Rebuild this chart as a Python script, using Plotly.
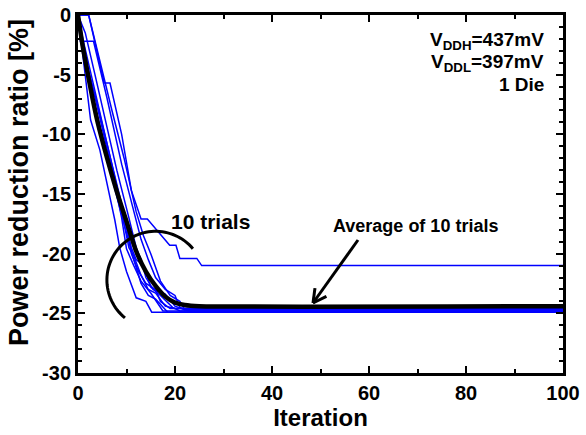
import numpy as np
import plotly.graph_objects as go

# ---- data (breakpoints) ----
trial_x = [
    [0, 2.2, 5.4, 6.6, 9, 11, 13, 14.3, 18.9, 20.2, 21, 24.5, 25.5, 100],
    [0, 2.2, 7, 9.5, 12, 13.5, 15, 17, 19, 21, 22, 100],
    [0, 0.5, 3.2, 6, 9, 11.5, 13, 14.5, 16, 18, 20, 21, 23.5, 100],
    [0, 2.6, 4.5, 7.6, 8.6, 10, 12, 14, 15.2, 100],
    [0, 1.5, 4, 6.5, 8, 9, 10, 11.5, 13, 15, 16.5, 17.5, 100],
    [0, 2, 4, 5.5, 8, 10, 11, 12.5, 14, 16, 17, 19, 100],
    [0, 1, 3, 5.5, 7.5, 9.5, 11, 12, 13.5, 15, 17, 19.5, 21, 100],
    [0, 1.2, 3, 5, 7, 9, 10.5, 11.5, 13, 14.5, 16, 18, 20, 100],
    [0, 2, 4, 6, 8.5, 10, 11.5, 13, 14.5, 16, 18.5, 100],
    [0, 1.5, 3.5, 6, 8, 10.5, 12, 13, 14, 15.5, 18, 20, 22, 100],
]
trial_y = [
    [0, 0, -5.7, -5.7, -10, -14.7, -17.1, -17.1, -19.3, -19.3, -20.4, -20.4, -21, -21],
    [0, 0, -8, -12, -16.5, -18.5, -20, -22.3, -23.5, -24, -24.7, -24.7],
    [0, -2.2, -2.2, -7, -12.5, -16.5, -18.8, -20.5, -22, -23, -23.5, -24.5, -24.9, -24.9],
    [0, -8.8, -11.3, -17.2, -19.5, -21.5, -23.7, -24, -24.9, -24.9],
    [0, -4, -8.5, -12.5, -15, -17, -19.6, -21, -22.3, -23.3, -24.2, -24.8, -24.8],
    [0, -4.5, -7.5, -10, -14, -17.5, -20, -21.5, -22.5, -23, -24, -24.6, -24.6],
    [0, -2, -5.5, -10, -13.5, -17, -19.5, -20.5, -21, -22.8, -23.5, -24.5, -24.8, -24.8],
    [0, -3, -6, -9.5, -13, -16.5, -19.5, -20.2, -21.8, -23, -23.3, -24.4, -24.6, -24.6],
    [0, -5, -8.5, -12, -16, -18.3, -20.5, -22.5, -23.5, -23.8, -24.9, -24.9],
    [0, -1.5, -5, -9.5, -13, -17, -19.5, -20.5, -22, -23, -23.4, -24.4, -24.7, -24.7],
]
avg_x = [0, 1, 2, 3, 4, 6, 8, 10, 12, 14, 16, 18, 20, 22, 25, 100]
avg_y = [0, -2.7, -4.9, -7, -8.9, -12, -14.8, -17.3, -19.8, -21.5, -22.7, -23.6, -24.1, -24.3, -24.4, -24.4]

x_ticks = [0, 20, 40, 60, 80, 100]
y_ticks = [0, -5, -10, -15, -20, -25, -30]

FONT = "Liberation Sans, Arial, sans-serif"
W, H = 586, 435
ML, MR, MT, MB = 78, 23, 15, 62
PW, PH = W - ML - MR, H - MT - MB
px_x = PW / 100.0   # pixels per iteration
px_y = PH / 30.0    # pixels per %


def dx(px):
    return (px - ML) / px_x


def dy(py):
    return -(py - MT) / px_y


fig = go.Figure()
for xs, ys in zip(trial_x, trial_y):
    fig.add_trace(go.Scatter(x=xs, y=ys, mode="lines",
                             line=dict(color="#0000ff", width=1.5),
                             showlegend=False, hoverinfo="skip"))
fig.add_trace(go.Scatter(x=avg_x, y=avg_y, mode="lines",
                         line=dict(color="black", width=4.5, shape="spline", smoothing=0.6),
                         showlegend=False, hoverinfo="skip"))

# arc around the trials (annotation)
cx, cy, r = dx(155.6), dy(280), 48.7
th = np.radians(np.linspace(40, 231, 60))
ax_pts = cx + r * np.cos(th) / px_x
ay_pts = cy + r * np.sin(th) / px_y
path = "M " + " L ".join(f"{a:.3f},{b:.3f}" for a, b in zip(ax_pts, ay_pts))
fig.add_shape(type="path", path=path, xref="x", yref="y",
              line=dict(color="black", width=3))

# arrow pointing to average line
tip = (dx(313), dy(303))
tail = (dx(358), dy(240))
fig.add_shape(type="line", x0=tail[0], y0=tail[1], x1=tip[0], y1=tip[1],
              xref="x", yref="y", line=dict(color="black", width=3))
dxp = (tail[0] - tip[0]) * px_x
dyp = (tail[1] - tip[1]) * px_y
ang = np.arctan2(dyp, dxp)
for d in (np.radians(28), -np.radians(28)):
    L = 15
    fig.add_shape(type="line", x0=tip[0], y0=tip[1],
                  x1=tip[0] + L * np.cos(ang + d) / px_x,
                  y1=tip[1] + L * np.sin(ang + d) / px_y,
                  xref="x", yref="y", line=dict(color="black", width=3))

fig.add_annotation(x=dx(210), y=dy(221), text="<b>10 trials</b>", showarrow=False,
                   font=dict(family=FONT, size=21, color="black"))
fig.add_annotation(x=dx(415), y=dy(226), text="<b>Average of 10 trials</b>", showarrow=False,
                   font=dict(family=FONT, size=18, color="black"))
for txt, yc in [("<b>V<sub>DDH</sub>=437mV</b>", 41),
                ("<b>V<sub>DDL</sub>=397mV</b>", 63),
                ("<b>1 Die</b>", 84)]:
    fig.add_annotation(x=dx(546), y=dy(yc), xanchor="right", yanchor="middle",
                       showarrow=False, text=txt,
                       font=dict(family=FONT, size=19, color="black"))

# y axis title placed as a rotated annotation
fig.add_annotation(x=(19 - ML) / PW, y=1 - (183 - MT) / PH, xref="paper", yref="paper",
                   xanchor="center", yanchor="middle",
                   text="<b>Power reduction ratio [%]</b>", textangle=-90, showarrow=False,
                   font=dict(family=FONT, size=27, color="black"))

axis_common = dict(showline=True, linecolor="black", linewidth=3, mirror="ticks",
                   ticks="inside", ticklen=7, tickwidth=2, tickcolor="black",
                   showgrid=False, zeroline=False,
                   tickfont=dict(family=FONT, size=20, color="black"))
fig.update_xaxes(range=[0, 100], tickvals=x_ticks, ticktext=[f"<b>{v}</b>" for v in x_ticks],
                 minor=dict(dtick=10, ticks="inside", ticklen=4, tickwidth=2, tickcolor="black"),
                 title=dict(text="<b>Iteration</b>", font=dict(family=FONT, size=24, color="black"),
                            standoff=0),
                 **axis_common)
fig.update_yaxes(range=[-30, 0], tickvals=y_ticks, ticktext=[f"<b>{v}</b>" for v in y_ticks],
                 minor=dict(dtick=1, ticks="inside", ticklen=4, tickwidth=2, tickcolor="black"),
                 **axis_common)
fig.update_layout(width=W, height=H, margin=dict(l=ML, r=MR, t=MT, b=MB, autoexpand=False),
                  plot_bgcolor="white", paper_bgcolor="white")
fig.write_html("out.html", config={"displayModeBar": False},
               post_script="document.body.style.margin='0px';document.body.style.overflow='hidden';")
